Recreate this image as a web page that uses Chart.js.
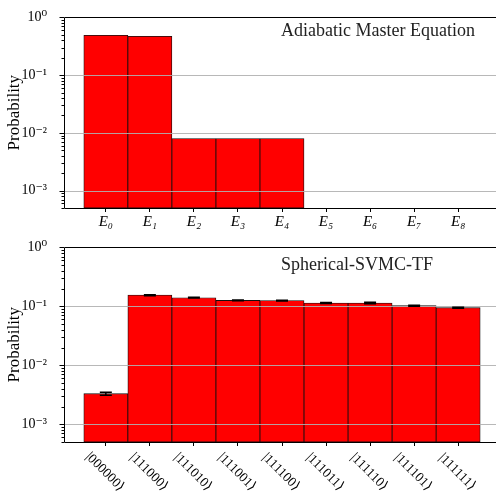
<!DOCTYPE html>
<html><head><meta charset="utf-8">
<script src="https://cdn.jsdelivr.net/npm/chart.js@4/dist/chart.umd.min.js"></script>
<style>
html,body{margin:0;padding:0;overflow:hidden;background:#fff;width:496px;height:495px}
canvas{display:block}
</style></head><body>
<canvas id="c1" width="500" height="230"></canvas>
<canvas id="c2" width="500" height="265"></canvas>
<script>
// ---- data ----
const energyLabels = ['E₀','E₁','E₂','E₃','E₄','E₅','E₆','E₇','E₈'];
const masterEqValues = [0.49, 0.472, 0.0080, 0.0080, 0.0080, null, null, null, null];
const stateLabels = ['|000000⟩','|111000⟩','|111010⟩','|111001⟩','|111100⟩','|111011⟩','|111110⟩','|111101⟩','|111111⟩'];
const svmcValues = [0.0033, 0.155, 0.140, 0.126, 0.125, 0.114, 0.114, 0.1026, 0.095];
const svmcErrors = [0.0002, 0.003, 0.002, 0.002, 0.002, 0.002, 0.003, 0.002, 0.002];
const yTickValues = [1e-3, 1e-2, 1e-1, 1];
const yTickLabels = ['10⁻³','10⁻²','10⁻¹','10⁰'];
const panelTitles = ['Adiabatic Master Equation', 'Spherical-SVMC-TF'];
const yAxisTitle = 'Probability';

const FONT = "'Liberation Serif', 'DejaVu Serif', serif";
const Y_MIN = 5e-4, Y_MAX = 1;

function overlay(cfg) {
  return {
    id: 'ov' + cfg.id,
    afterDatasetsDraw(chart) {
      const ctx = chart.ctx, a = chart.chartArea, xs = chart.scales.x, ys = chart.scales.y;
      ctx.save();
      // grid lines (drawn above bars)
      ctx.strokeStyle = 'rgba(176,176,176,0.9)';
      ctx.lineWidth = 1;
      yTickValues.forEach(v => {
        if (v >= Y_MAX) return;
        const y = Math.round(ys.getPixelForValue(v)) + 0.5;
        ctx.beginPath(); ctx.moveTo(a.left, y); ctx.lineTo(a.right, y); ctx.stroke();
      });
      // error bars
      if (cfg.errors) {
        ctx.strokeStyle = '#000';
        ctx.lineWidth = 1.5;
        cfg.values.forEach((v, i) => {
          if (v == null) return;
          const e = cfg.errors[i];
          const x = xs.getPixelForValue(i);
          const y1 = ys.getPixelForValue(v + e), y2 = ys.getPixelForValue(v - e);
          ctx.beginPath();
          ctx.moveTo(x, y1); ctx.lineTo(x, y2);
          ctx.moveTo(x - 6, y1); ctx.lineTo(x + 6, y1);
          ctx.moveTo(x - 6, y2); ctx.lineTo(x + 6, y2);
          ctx.stroke();
        });
      }
      // y tick marks (major + minor)
      ctx.strokeStyle = '#000';
      ctx.lineWidth = 1;
      for (let e = -4; e <= 0; e++) {
        for (let m = 1; m <= 9; m++) {
          const v = m * Math.pow(10, e);
          if (v < Y_MIN - 1e-12 || v > Y_MAX + 1e-12) continue;
          const y = Math.round(ys.getPixelForValue(v)) + 0.5;
          const len = m === 1 ? 4.5 : 2.5;
          ctx.beginPath(); ctx.moveTo(a.left - len, y); ctx.lineTo(a.left, y); ctx.stroke();
        }
      }
      // spines
      const L = Math.round(a.left) + 0.5, T = Math.round(a.top) + 0.5, B = Math.round(a.bottom) + 0.5;
      ctx.beginPath();
      ctx.moveTo(a.right, T); ctx.lineTo(L, T); ctx.lineTo(L, B); ctx.lineTo(a.right, B);
      ctx.stroke();
      // panel title
      ctx.fillStyle = '#222';
      ctx.font = '18px ' + FONT;
      ctx.textAlign = 'left';
      ctx.textBaseline = 'alphabetic';
      ctx.fillText(cfg.title, 281, cfg.titleY);
      // rotated x labels
      if (cfg.rotated) {
        ctx.fillStyle = '#000';
        ctx.font = '13.5px ' + FONT;
        ctx.textAlign = 'center';
        ctx.textBaseline = 'middle';
        cfg.labels.forEach((lab, i) => {
          const x = xs.getPixelForValue(i) - 1;
          ctx.save();
          ctx.translate(x, a.bottom + 30);
          ctx.rotate(Math.PI / 4);
          ctx.fillText(lab, 0, 0);
          ctx.restore();
        });
      }
      ctx.restore();
    }
  };
}

function makeChart(cfg) {
  const canvas = document.getElementById(cfg.id);
  const H = canvas.height;
  return new Chart(canvas, {
    type: 'bar',
    data: {
      datasets: [{
        data: cfg.values.map((v, i) => ({ x: i, y: v })),
        backgroundColor: '#ff0000',
        borderColor: '#111',
        borderWidth: 0.8,
        borderSkipped: false,
        barPercentage: 1,
        categoryPercentage: 1
      }]
    },
    options: {
      responsive: false,
      animation: false,
      devicePixelRatio: 1,
      layout: { padding: { top: cfg.top, left: 0, right: 0, bottom: 0 } },
      plugins: { legend: { display: false }, tooltip: { enabled: false } },
      scales: {
        x: {
          type: 'linear', min: -0.95, max: 8.95, offset: false,
          afterBuildTicks: s => { s.ticks = cfg.labels.map((_, i) => ({ value: i })); },
          afterFit: s => { s.height = H - cfg.bottom; },
          grid: { offset: false, drawOnChartArea: false, drawTicks: true, tickLength: 4, color: '#000', tickColor: '#000' },
          border: { display: false },
          ticks: {
            display: !cfg.rotated, autoSkip: false, maxRotation: 0, minRotation: 0, padding: 1,
            color: '#000', font: { family: FONT, size: 15, style: 'italic' },
            callback: v => cfg.labels[Math.round(v)]
          }
        },
        y: {
          type: 'logarithmic', min: Y_MIN, max: Y_MAX,
          afterBuildTicks: s => { s.ticks = yTickValues.map(v => ({ value: v })); },
          afterFit: s => { s.width = 64; },
          grid: { display: false },
          border: { display: false },
          ticks: {
            padding: 9, color: '#000', font: { family: FONT, size: 14 },
            callback: v => yTickLabels[yTickValues.indexOf(v)]
          },
          title: { display: true, text: yAxisTitle, color: '#000', font: { family: FONT, size: 17 }, padding: { top: 4, bottom: 0 } }
        }
      }
    },
    plugins: [overlay(cfg)]
  });
}

makeChart({ id: 'c1', values: masterEqValues, labels: energyLabels, title: panelTitles[0],
  top: 13, bottom: 208, titleY: 36, rotated: false });
makeChart({ id: 'c2', values: svmcValues, errors: svmcErrors, labels: stateLabels, title: panelTitles[1],
  top: 17, bottom: 212, titleY: 40, rotated: true });
</script>
</body></html>
